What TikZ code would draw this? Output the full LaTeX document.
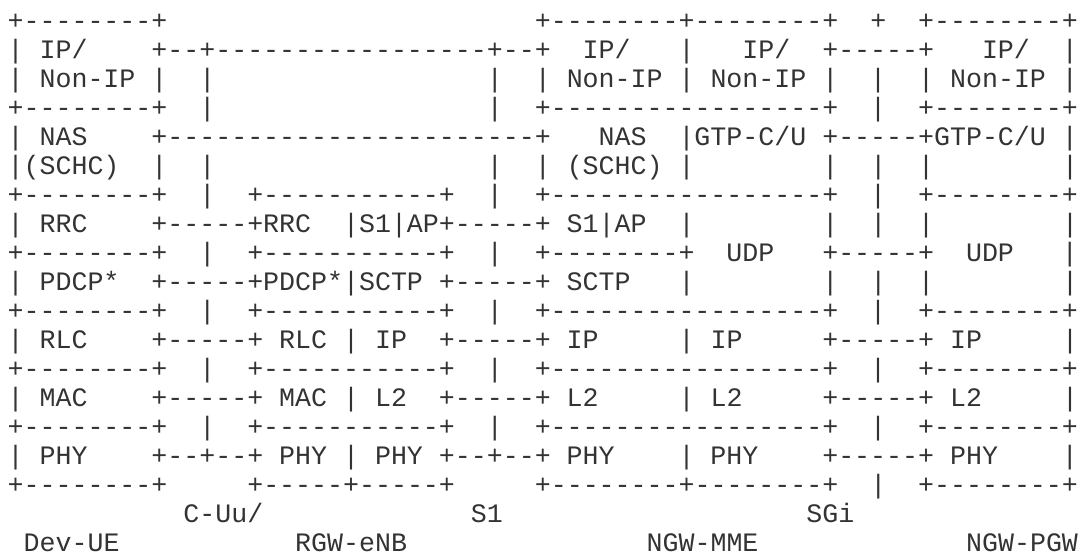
\documentclass[tikz,border=0pt]{standalone}
\usepackage{fontspec}
\setmonofont{Liberation Mono}
\usepackage{tikz}
% n spazi di un carattere a larghezza fissa
\newcommand\spazi[1]{\kern#1\fontcharwd\font`x\relax}

\begin{document}
\begin{tikzpicture}[x=6pt, y=-10.9pt]
    % Stile per le righe di testo a spaziatura fissa
    \tikzset{
        riga/.style={
            anchor=base west,
            inner sep=0pt,
            outer sep=0pt,
            text=black!80,
            font=\ttfamily\fontsize{10pt}{10.9pt}\selectfont
        }
    }

    % Area della figura (margini inclusi)
    \useasboundingbox (0,0) rectangle (67.68,19.09);

    % --- Pile di protocolli: Dev-UE, RGW-eNB, NGW-MME, NGW-PGW ---
    % Una riga per ogni linea del disegno, una colonna = un carattere
    \foreach \testo [count=\n] in {
        {+--------+\spazi{23}+--------+--------+~~+~~+--------+},
        {|~IP/\spazi{4}+--+-----------------+--+~~IP/\spazi{3}|\spazi{3}IP/~~+-----+\spazi{3}IP/~~|},
        {|~Non-IP~|~~|\spazi{17}|~~|~Non-IP~|~Non-IP~|~~|~~|~Non-IP~|},
        {+--------+~~|\spazi{17}|~~+-----------------+~~|~~+--------+},
        {|~NAS\spazi{4}+-----------------------+\spazi{3}NAS~~|GTP-C/U~+-----+GTP-C/U~|},
        {|(SCHC)~~|~~|\spazi{17}|~~|~(SCHC)~|\spazi{8}|~~|~~|\spazi{8}|},
        {+--------+~~|~~+-----------+~~|~~+-----------------+~~|~~+--------+},
        {|~RRC\spazi{4}+-----+RRC~~|S1|AP+-----+~S1|AP~~|\spazi{8}|~~|~~|\spazi{8}|},
        {+--------+~~|~~+-----------+~~|~~+--------+~~UDP\spazi{3}+-----+~~UDP\spazi{3}|},
        {|~PDCP*~~+-----+PDCP*|SCTP~+-----+~SCTP\spazi{3}|\spazi{8}|~~|~~|\spazi{8}|},
        {+--------+~~|~~+-----------+~~|~~+-----------------+~~|~~+--------+},
        {|~RLC\spazi{4}+-----+~RLC~|~IP~~+-----+~IP\spazi{5}|~IP\spazi{5}+-----+~IP\spazi{5}|},
        {+--------+~~|~~+-----------+~~|~~+-----------------+~~|~~+--------+},
        {|~MAC\spazi{4}+-----+~MAC~|~L2~~+-----+~L2\spazi{5}|~L2\spazi{5}+-----+~L2\spazi{5}|},
        {+--------+~~|~~+-----------+~~|~~+-----------------+~~|~~+--------+},
        {|~PHY\spazi{4}+--+--+~PHY~|~PHY~+--+--+~PHY\spazi{4}|~PHY\spazi{4}+-----+~PHY\spazi{4}|},
        {+--------+\spazi{5}+-----+-----+\spazi{5}+--------+--------+~~|~~+--------+},
        {\spazi{11}C-Uu/\spazi{13}S1\spazi{19}SGi},
        {~Dev-UE\spazi{11}RGW-eNB\spazi{15}NGW-MME\spazi{13}NGW-PGW}} {
        \node[riga] (r\n) at (0.48, \n) {\testo};
    }
\end{tikzpicture}
\end{document}
